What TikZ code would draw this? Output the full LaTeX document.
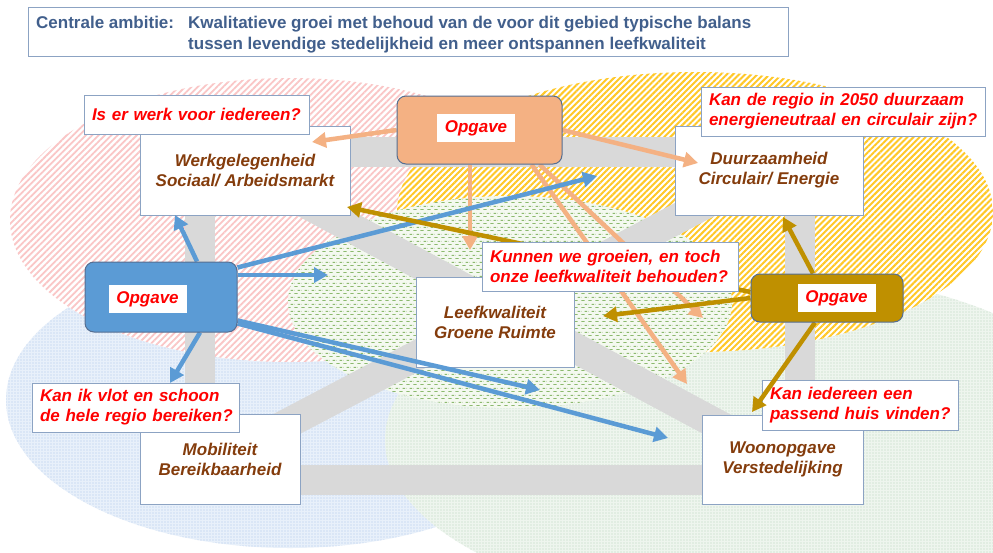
\documentclass[tikz,border=0pt]{standalone}
\usepackage{fontspec}
\setmainfont{Liberation Sans}
\usetikzlibrary{arrows.meta,patterns.meta,calc}

\definecolor{hdrblue}{RGB}{65,95,140}
\definecolor{boxbrd}{RGB}{140,163,195}
\definecolor{opbrd}{RGB}{85,110,145}
\definecolor{brownT}{RGB}{132,60,12}
\definecolor{qred}{RGB}{255,0,0}
\definecolor{orng}{RGB}{244,177,131}
\definecolor{blu}{RGB}{91,155,213}
\definecolor{goldc}{RGB}{191,144,0}
\definecolor{bandgray}{RGB}{217,217,217}
\definecolor{pinkL}{RGB}{250,198,198}
\definecolor{yelL}{RGB}{255,200,40}
\definecolor{bluBg}{RGB}{232,240,250}
\definecolor{bluD}{RGB}{205,220,242}
\definecolor{grnBg}{RGB}{238,245,238}
\definecolor{grnD}{RGB}{185,212,190}
\definecolor{cenBg}{RGB}{244,249,240}
\definecolor{cenD}{RGB}{140,185,110}

\tikzdeclarepattern{
  name=hdashes,
  type=uncolored,
  bounding box={(0pt,0pt) and (7pt,6.6pt)},
  tile size={(7pt,6.6pt)},
  code={
    \draw[line width=1pt] (0.5pt,1.6pt) -- (4pt,1.6pt);
    \draw[line width=1pt] (4pt,4.9pt) -- (7pt,4.9pt);
    \draw[line width=1pt] (0pt,4.9pt) -- (0.5pt,4.9pt);
  }
}

\newcommand\btfont{\fontsize{17}{20}\selectfont\bfseries\itshape}
\newcommand\hdfont{\fontsize{17}{21}\selectfont\bfseries}

\pgfdeclarelayer{ell}
\pgfdeclarelayer{band}
\pgfdeclarelayer{arr}
\pgfdeclarelayer{top}
\pgfsetlayers{ell,band,main,arr,top}

\tikzset{
  tbox/.style={draw=boxbrd, line width=0.8pt, fill=white, inner sep=0pt,
    font=\btfont, text=brownT, align=center},
  qbox/.style={draw=boxbrd, line width=0.8pt, fill=white, inner xsep=8pt, inner ysep=0pt,
    font=\btfont, text=qred, align=left},
  opbox/.style={draw=opbrd, line width=1pt, rounded corners=9pt, inner sep=0pt},
  oplabel/.style={fill=white, inner sep=0pt, minimum width=78pt, minimum height=28pt,
    font=\btfont, text=qred},
  arrO/.style={draw=orng, line width=4.5pt, -{Triangle[length=14pt,width=15pt]}},
  arrB/.style={draw=blu, line width=4.5pt, -{Triangle[length=14pt,width=15pt]}},
  arrG/.style={draw=goldc, line width=4.5pt, -{Triangle[length=14pt,width=15pt]}},
  bandline/.style={line width=30pt, draw=bandgray},
}

\begin{document}
\begin{tikzpicture}[x=1pt,y=-1pt]
\useasboundingbox (0,0) rectangle (993,552);

% ---------- ellipses ----------
\begin{pgfonlayer}{ell}
\fill[white] (0,0) rectangle (993,552);
\begin{scope}
\clip (0,0) rectangle (993,552);
% blue (bottom left)
\fill[bluBg] (290,400) ellipse [x radius=284pt, y radius=148pt];
\fill[pattern={Dots[radius=0.9pt,distance=3pt]}, pattern color=bluD] (290,400) ellipse [x radius=284pt, y radius=148pt];
% green (bottom right)
\fill[grnBg] (750,440) ellipse [x radius=365pt, y radius=170pt];
\fill[pattern={Dots[radius=0.7pt,distance=3pt]}, pattern color=grnD] (750,440) ellipse [x radius=365pt, y radius=170pt];
% pink (top left)
\fill[white] (290,220) ellipse [x radius=280pt, y radius=142pt];
\fill[pattern={Lines[angle=45,distance=4.5pt,line width=1.8pt]}, pattern color=pinkL] (290,220) ellipse [x radius=280pt, y radius=142pt];
% yellow (top right)
\fill[white] (695,212) ellipse [x radius=298pt, y radius=140pt];
\fill[pattern={Lines[angle=45,distance=4.3pt,line width=2pt]}, pattern color=yelL] (695,212) ellipse [x radius=298pt, y radius=140pt];
% centre green dashes
\fill[cenBg] (510,302) ellipse [x radius=222pt, y radius=106pt];
\fill[pattern=hdashes, pattern color=cenD] (510,302) ellipse [x radius=222pt, y radius=106pt];
\end{scope}
\end{pgfonlayer}

% ---------- header ----------
\node[draw=boxbrd, line width=0.8pt, fill=white, minimum width=760pt, minimum height=49pt, inner sep=0pt] (hdr) at (408,31.5) {};
\node[anchor=base west, inner sep=0pt, font=\hdfont, text=hdrblue] (hdrA) at (36,28) {Centrale ambitie:};
\node[anchor=base west, inner sep=0pt, font=\hdfont, text=hdrblue] (hdrB1) at (188,28) {Kwalitatieve groei met behoud van de voor dit gebied typische balans};
\node[anchor=base west, inner sep=0pt, font=\hdfont, text=hdrblue] (hdrB2) at (188,49) {tussen levendige stedelijkheid en meer ontspannen leefkwaliteit};

% ---------- theme boxes ----------
\node[tbox, minimum width=210pt, minimum height=89pt] (werk) at (245,170.5) {Werkgelegenheid\\Sociaal/ Arbeidsmarkt};
\node[tbox, minimum width=188pt, minimum height=89pt] (duurz) at (769,170.5) {Duurzaamheid\\Circulair/ Energie};
\node[tbox, minimum width=158pt, minimum height=90pt] (leef) at (495,322) {Leefkwaliteit\\Groene Ruimte};
\node[tbox, minimum width=160pt, minimum height=90pt] (mob) at (220,459) {Mobiliteit\\Bereikbaarheid};
\node[tbox, minimum width=161pt, minimum height=89pt] (woon) at (782.5,459.5) {Woonopgave\\Verstedelijking};

% ---------- grey frame ----------
\begin{pgfonlayer}{band}
\draw[bandline] (200,152) rectangle (800,480);
\draw[bandline] (werk.center) -- (woon.center);
\draw[bandline] (mob.center) -- (duurz.center);
\end{pgfonlayer}

% ---------- question boxes ----------
\node[qbox, text width=209pt, minimum height=39pt] (qW) at (196.5,114.5) {\mbox{Is er werk voor iedereen?}};
\node[qbox, text width=268pt, minimum height=49pt] (qD) at (843,111.5) {\mbox{Kan de regio in 2050 duurzaam}\\\mbox{energieneutraal en circulair zijn?}};
\node[qbox, text width=191pt, minimum height=49pt] (qM) at (135.5,407.5) {\mbox{Kan ik vlot en schoon}\\\mbox{de hele regio bereiken?}};
\node[qbox, text width=180pt, minimum height=50pt] (qH) at (860,405) {\mbox{Kan iedereen een}\\\mbox{passend huis vinden?}};

% ---------- Opgave boxes ----------
\begin{pgfonlayer}{top}
\node[opbox, fill=orng, minimum width=165pt, minimum height=68pt] (opO) at (479.5,130) {};
\node[oplabel] (opOl) at (476,128) {Opgave};
\node[opbox, fill=blu, minimum width=152pt, minimum height=70pt] (opB) at (161,297) {};
\node[oplabel] (opBl) at (147.5,299) {Opgave};
\node[opbox, fill=goldc, minimum width=152pt, minimum height=48pt] (opG) at (827,298) {};
\node[oplabel] (opGl) at (836.5,298) {Opgave};
\node[qbox, text width=240pt, minimum height=49pt] (qL) at (610,266.5) {\mbox{Kunnen we groeien, en toch}\\\mbox{onze leefkwaliteit behouden?}};
\end{pgfonlayer}

% ---------- arrow end points ----------
\coordinate (tOW) at (312,142);
\coordinate (tOE) at (698,163);
\coordinate (tOD) at (470,250);
\coordinate (tOS1) at (687,384);
\coordinate (tOS2) at (703,318);
\coordinate (tBN) at (175,215);
\coordinate (tBS) at (170,383);
\coordinate (tBE) at (328,275);
\coordinate (tBD) at (597,176);
\coordinate (tBL) at (540,390);
\coordinate (tBW) at (668,438);
\coordinate (tGN) at (783,217);
\coordinate (tGS) at (752,412);
\coordinate (tGW) at (603,316);
\coordinate (tGL) at (347,207);

% ---------- arrows ----------
\begin{pgfonlayer}{arr}
\draw[arrO] (opO.west) -- (tOW);
\draw[arrO] (opO.east) -- (tOE);
\draw[arrO] (opO.south -| tOD) -- (tOD);
\draw[arrO] ($(opO.south)+(52,0)$) -- (tOS1);
\draw[arrO] ($(opO.south)+(60,0)$) -- (tOS2);

\draw[arrB] ($(opB.north)+(36,0)$) -- (tBN);
\draw[arrB] ($(opB.south)+(39,0)$) -- (tBS);
\draw[arrB] ($(opB.east)+(0,-22)$) -- (tBE);
\draw[arrB] ($(opB.north east)+(0,6)$) -- (tBD);
\draw[arrB] ($(opB.south east)+(0,-12)$) -- (tBL);
\draw[arrB] ($(opB.south east)+(0,-9)$) -- (tBW);

\draw[arrG] ($(opG.north)+(-14,0)$) -- (tGN);
\draw[arrG] ($(opG.south)+(-12,0)$) -- (tGS);
\draw[arrG] (opG.west) -- (tGW);
\draw[arrG] ($(opG.west)+(0,-6)$) -- (tGL);
\end{pgfonlayer}
\end{tikzpicture}
\end{document}
